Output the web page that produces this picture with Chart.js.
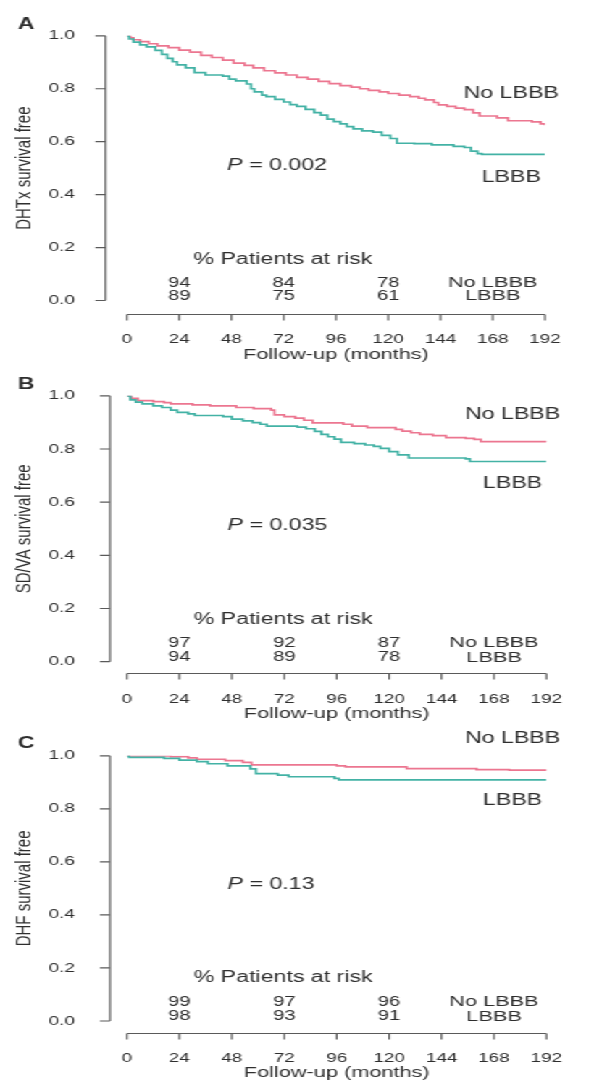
<!DOCTYPE html>
<html><head><meta charset="utf-8">
<script src="https://cdn.jsdelivr.net/npm/chart.js@4.4.1/dist/chart.umd.min.js"></script>
<style>
html,body{margin:0;padding:0;background:#fff;}
#stage{position:absolute;left:0;top:0;width:410px;height:1083px;transform:scaleX(1.448781);transform-origin:0 0;}
.panel{position:absolute;left:0;width:410px;}
</style></head><body>
<div id="stage">
  <div class="panel" style="top:0px;height:362px"><canvas id="cA"></canvas></div>
  <div class="panel" style="top:360px;height:361px"><canvas id="cB"></canvas></div>
  <div class="panel" style="top:720px;height:360px"><canvas id="cC"></canvas></div>
</div>
<script>
// ---------- DATA ----------
const xTicks = [0, 24, 48, 72, 96, 120, 144, 168, 192];
const yTicks = [0, 0.2, 0.4, 0.6, 0.8, 1.0];
const seriesNames = ['No LBBB', 'LBBB'];
const riskTimes = [24, 72, 120];
const riskLabelTime = 168;

// Panel A: DHTx
const aNoT = [0,1.5,3,6,10,14,19,24,29,34,39,44,49,54,58,63,68,73,78,83,88,93,98,103,107,111,116,120,125,130,134,137,141,143,147,151,155,159,162,170,175,186,190,192];
const aNoS = [1.0,0.992,0.985,0.978,0.970,0.962,0.955,0.946,0.938,0.926,0.918,0.908,0.897,0.888,0.879,0.868,0.860,0.852,0.843,0.836,0.828,0.819,0.812,0.806,0.800,0.794,0.788,0.782,0.776,0.770,0.764,0.758,0.748,0.739,0.733,0.727,0.721,0.709,0.697,0.690,0.679,0.675,0.667,0.662];
const aLT = [0,1,3,6,9,13,16,18.5,21,23,27,31,36,44,47,50,55,57,58.5,62,64,68,72,75,78,82,86,89,92,95,98,101,104,108,113,117,121,124,132,140,150,155,158,161,163,192];
const aLS = [1.0,0.988,0.976,0.966,0.958,0.945,0.930,0.915,0.902,0.890,0.879,0.861,0.852,0.848,0.836,0.830,0.818,0.800,0.788,0.776,0.770,0.760,0.750,0.740,0.733,0.722,0.710,0.700,0.685,0.676,0.667,0.657,0.648,0.641,0.636,0.624,0.612,0.594,0.593,0.588,0.582,0.578,0.564,0.555,0.552,0.552];
const aRiskNo = [94, 84, 78];
const aRiskL = [89, 75, 61];

// Panel B: SD/VA
const bNoT = [0,2,5,12,17,20,30,38,50,58,66,67.5,72,77,81,85,99,103,110,123,126,130,134,140,146,155,159,162,192];
const bNoS = [1.0,0.990,0.982,0.978,0.974,0.970,0.966,0.962,0.956,0.952,0.946,0.928,0.922,0.916,0.908,0.898,0.893,0.886,0.880,0.874,0.867,0.861,0.855,0.850,0.843,0.840,0.836,0.828,0.826];
const bLT = [0,1.5,4,7,12,16,20,23,28,31,44,48,53,57.5,61,64,78,82,86,89,92,95,98,104,109,113,116,120,124,129,155,157,192];
const bLS = [1.0,0.985,0.976,0.970,0.962,0.956,0.946,0.938,0.932,0.926,0.922,0.912,0.906,0.899,0.893,0.886,0.882,0.876,0.866,0.855,0.846,0.837,0.825,0.820,0.815,0.810,0.802,0.790,0.778,0.766,0.763,0.753,0.753];
const bRiskNo = [97, 92, 87];
const bRiskL = [94, 89, 78];

// Panel C: DHF
const cNoT = [0,20,28,32,45,53,57,96,100,128,160,175,192];
const cNoS = [1.0,0.997,0.992,0.987,0.982,0.975,0.966,0.962,0.958,0.952,0.948,0.946,0.944];
const cLT = [0,1,17,24,32,37,46,56.5,59,69,74,95,97,192];
const cLS = [1.0,0.994,0.990,0.984,0.978,0.970,0.962,0.951,0.933,0.927,0.921,0.915,0.909,0.909];
const cRiskNo = [99, 97, 96];
const cRiskL = [98, 93, 91];

// ---------- STYLE ----------
const S = 594 / 410;               // horizontal stretch of the stage
const FONT = '"Liberation Sans", Arial, Helvetica, sans-serif';
const TXT = '#2e2e2e';
const AXIS = '#5a5a5a';
const PINK = '#ec7690';
const TEAL = '#43b2a5';

function pts(t, s) { return t.map((v, i) => ({ x: v, y: s[i] })); }

function makePanel(id, P) {
  const G = P.geom;
  const decor = {
    id: 'decor' + id,
    afterDraw(chart) {
      const { ctx, scales: { x, y } } = chart;
      ctx.save();
      ctx.strokeStyle = AXIS; ctx.lineWidth = 1.2;
      ctx.beginPath();
      const ax = G.yAxisX / S;
      ctx.moveTo(ax, y.getPixelForValue(1)); ctx.lineTo(ax, y.getPixelForValue(0));
      y.ticks.forEach(t => { const py = y.getPixelForValue(t.value); ctx.moveTo(ax, py); ctx.lineTo(ax - 7, py); });
      const ay = G.xAxisY + 0.5;
      ctx.moveTo(x.getPixelForValue(0), ay); ctx.lineTo(x.getPixelForValue(192), ay);
      x.ticks.forEach(t => { const px = x.getPixelForValue(t.value); ctx.moveTo(px, ay); ctx.lineTo(px, ay + 6); });
      ctx.stroke();

      ctx.fillStyle = TXT; ctx.textBaseline = 'middle';
      // panel letter
      ctx.font = 'bold 16px ' + FONT; ctx.textAlign = 'center';
      ctx.fillText(P.letter, 26 / S, G.letterY);
      // curve labels
      ctx.font = '16px ' + FONT; ctx.textAlign = 'center';
      ctx.fillText(seriesNames[0], x.getPixelForValue(176.5), G.noY);
      ctx.fillText(seriesNames[1], x.getPixelForValue(176.5), G.lY);
      // P value
      ctx.textAlign = 'left';
      let px0 = x.getPixelForValue(46);
      ctx.font = 'italic 16px ' + FONT;
      ctx.fillText('P', px0, G.pY);
      const w = ctx.measureText('P').width;
      ctx.font = '16px ' + FONT;
      ctx.fillText(' = ' + P.pText, px0 + w, G.pY);
      // risk table
      ctx.font = '16px ' + FONT; ctx.textAlign = 'left';
      ctx.fillText('% Patients at risk', x.getPixelForValue(30.5), G.headY);
      ctx.font = '14px ' + FONT; ctx.textAlign = 'center';
      riskTimes.forEach((t, i) => {
        ctx.fillText(String(P.riskNo[i]), x.getPixelForValue(t), G.row1Y);
        ctx.fillText(String(P.riskL[i]), x.getPixelForValue(t), G.row2Y);
      });
      ctx.font = '15px ' + FONT;
      ctx.fillText(seriesNames[0], x.getPixelForValue(riskLabelTime), G.row1Y);
      ctx.fillText(seriesNames[1], x.getPixelForValue(riskLabelTime), G.row2Y);
      ctx.restore();
    }
  };

  return new Chart(document.getElementById(id), {
    type: 'line',
    data: {
      datasets: [
        { label: seriesNames[1], data: pts(P.lT, P.lS), borderColor: TEAL, borderWidth: 1.7, pointRadius: 0, stepped: true, fill: false },
        { label: seriesNames[0], data: pts(P.noT, P.noS), borderColor: PINK, borderWidth: 1.7, pointRadius: 0, stepped: true, fill: false }
      ]
    },
    options: {
      responsive: true, maintainAspectRatio: false, animation: false, devicePixelRatio: 1,
      layout: { padding: { top: G.top, right: 410 - 568 / S, bottom: 0, left: 0 } },
      plugins: { legend: { display: false }, tooltip: { enabled: false } },
      scales: {
        x: {
          type: 'linear', min: 0, max: 192,
          afterBuildTicks: s => { s.ticks = xTicks.map(v => ({ value: v })); },
          ticks: { padding: G.xTickPad, color: TXT, font: { family: FONT, size: 13 }, maxRotation: 0, autoSkip: false },
          grid: { display: false }, border: { display: false },
          title: { display: true, text: 'Follow-up (months)', color: TXT, font: { family: FONT, size: 15, lineHeight: 1 }, padding: 0 },
          afterFit: s => { s.height = G.H - G.bottom; }
        },
        y: {
          type: 'linear', min: 0, max: 1,
          afterBuildTicks: s => { s.ticks = yTicks.map(v => ({ value: v })); },
          ticks: { padding: 28, color: TXT, font: { family: FONT, size: 13 }, callback: v => Number(v).toFixed(1) },
          grid: { display: false }, border: { display: false },
          title: { display: true, text: P.yTitle, color: TXT, font: { family: FONT, size: 15, lineHeight: 1.2 }, padding: { top: 8, bottom: 0 } },
          afterFit: s => { s.width = 127 / S; }
        }
      }
    },
    plugins: [decor]
  });
}

makePanel('cA', {
  letter: 'A', yTitle: 'DHTx survival free', pText: '0.002',
  noT: aNoT, noS: aNoS, lT: aLT, lS: aLS, riskNo: aRiskNo, riskL: aRiskL,
  geom: { H: 362, top: 25, bottom: 300.5, xAxisY: 314, yAxisX: 105.5, xTickPad: 23,
          letterY: 25, noY: 94, lY: 177.5, pY: 166, headY: 260, row1Y: 283, row2Y: 296 }
});
makePanel('cB', {
  letter: 'B', yTitle: 'SD/VA survival free', pText: '0.035',
  noT: bNoT, noS: bNoS, lT: bLT, lS: bLS, riskNo: bRiskNo, riskL: bRiskL,
  geom: { H: 361, top: 25, bottom: 301.7, xAxisY: 313, yAxisX: 110, xTickPad: 22,
          letterY: 25, noY: 55, lY: 124, pY: 166, headY: 260, row1Y: 283.3, row2Y: 297.5 }
});
makePanel('cC', {
  letter: 'C', yTitle: 'DHF survival free', pText: '0.13',
  noT: cNoT, noS: cNoS, lT: cLT, lS: cLS, riskNo: cRiskNo, riskL: cRiskL,
  geom: { H: 360, top: 23, bottom: 301, xAxisY: 313, yAxisX: 110, xTickPad: 22,
          letterY: 24, noY: 19, lY: 81, pY: 165, headY: 258, row1Y: 281.7, row2Y: 296.5 }
});
</script>
</body></html>
